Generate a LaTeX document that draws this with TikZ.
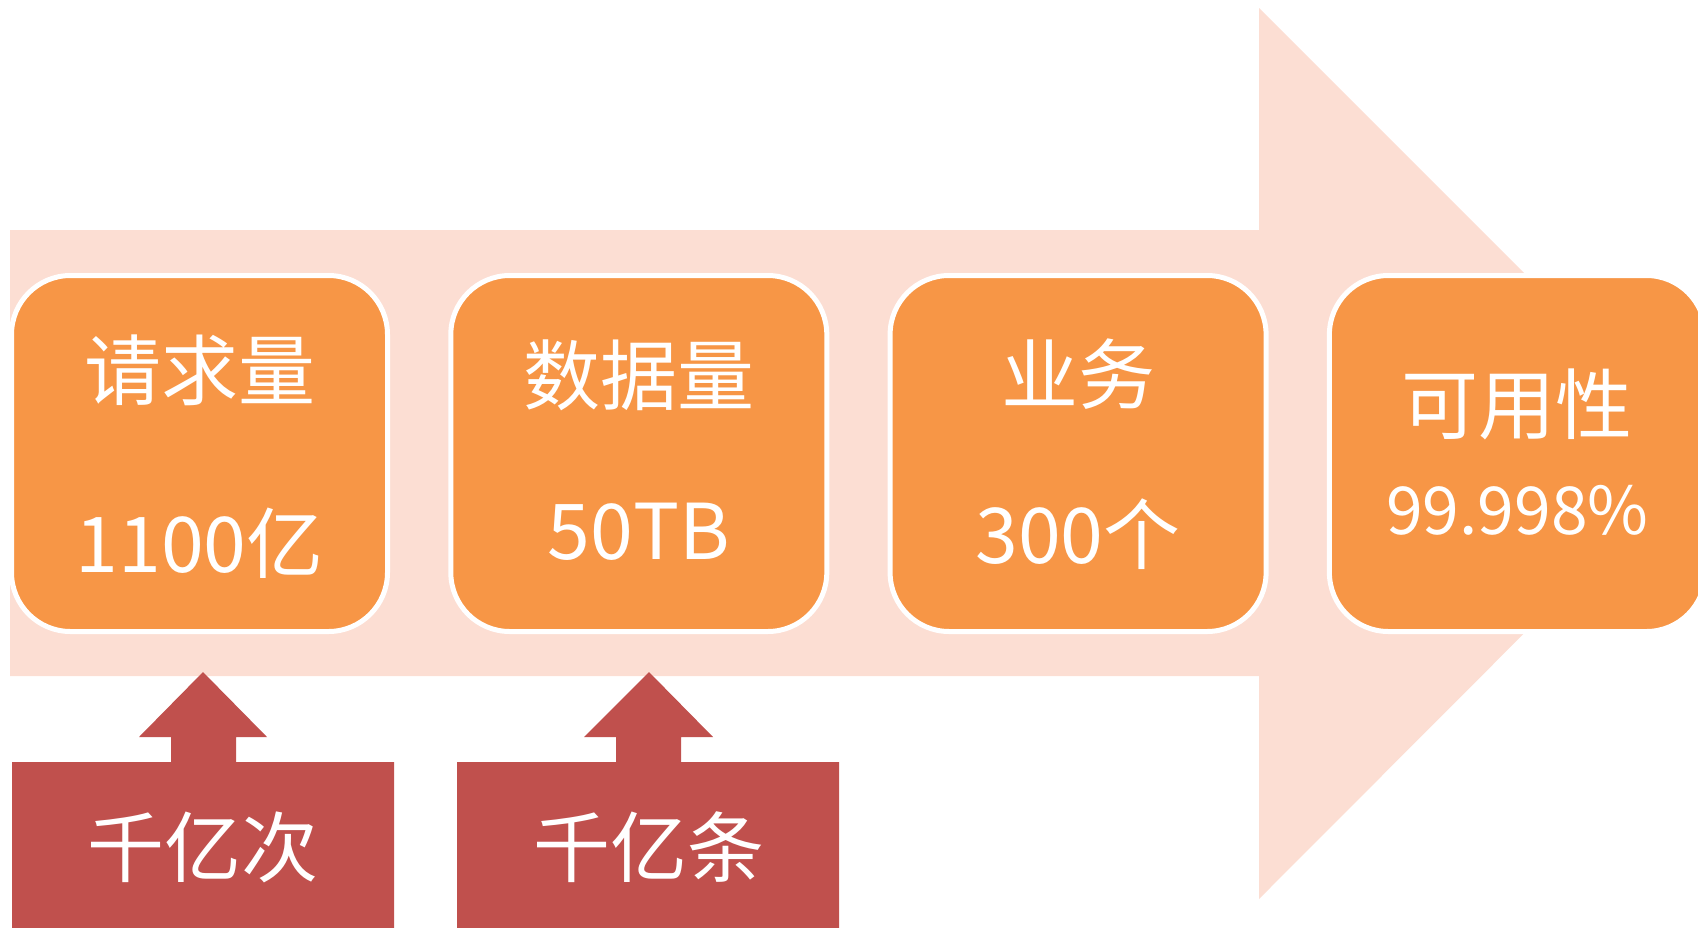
\documentclass[tikz,border=0pt]{standalone}
\usepackage{fontspec}
\setmainfont{Noto Sans CJK SC}
\definecolor{pinkbg}{HTML}{FCDED3}
\definecolor{boxorange}{HTML}{F79646}
\definecolor{calloutred}{HTML}{C0504D}
\tikzset{
  statbox/.style={draw=white, line width=5pt, fill=boxorange, rounded corners=59pt,
    minimum width=376pt, minimum height=356pt, inner sep=0pt},
  bigtxt/.style={text=white, inner sep=0pt, font=\fontsize{77}{80}\selectfont},
  midtxt/.style={text=white, inner sep=0pt, font=\fontsize{66}{70}\selectfont},
}
\begin{document}
\begin{tikzpicture}[x=1pt, y=-1pt]
\useasboundingbox (0,0) rectangle (1698,927);
\clip (0,0) rectangle (1698,927);
% big background arrow
\fill[pinkbg] (10,230) -- (1259,230) -- (1259,8) -- (1704,453) -- (1259,899) -- (1259,676) -- (10,676) -- cycle;
% stat boxes
\node[statbox] (b1) at (199.5,453.5) {};
\node[statbox] (b2) at (638.8,453.5) {};
\node[statbox] (b3) at (1078.1,453.5) {};
\node[statbox] (b4) at (1517.4,453.5) {};
\node[bigtxt] (t1a) at (199.5,370) {请求量};
\node[bigtxt] (t1b) at (199.5,543) {1100亿};
\node[bigtxt] (t2a) at (638.8,375) {数据量};
\node[bigtxt] (t2b) at (638.8,531.5) {50TB};
\node[bigtxt] (t3a) at (1078.1,374) {业务};
\node[bigtxt] (t3b) at (1078.1,534) {300个};
\node[bigtxt] (t4a) at (1517.4,404.5) {可用性};
\node[midtxt] (t4b) at (1517.4,510) {99.998\%};
% callouts
\fill[calloutred] (12,935) -- (12,762) -- (171,762) -- (171,737) -- (139,737) -- (203,672)
  -- (267,737) -- (236,737) -- (236,762) -- (394,762) -- (394,935) -- cycle;
\fill[calloutred] (457,935) -- (457,762) -- (616,762) -- (616,737) -- (584,737) -- (649,672)
  -- (713,737) -- (681,737) -- (681,762) -- (839,762) -- (839,935) -- cycle;
\node[bigtxt] (c1) at (203,847.5) {千亿次};
\node[bigtxt] (c2) at (649,847.5) {千亿条};
\end{tikzpicture}
\end{document}
